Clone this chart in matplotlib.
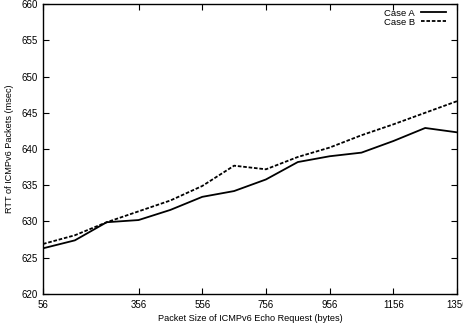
import matplotlib.pyplot as plt
import numpy as np

plt.rcParams['font.family'] = ['Liberation Sans', 'DejaVu Sans']

# packet sizes (bytes)
sizes = [56, 156, 256, 356, 456, 556, 656, 756, 856, 956, 1056, 1156, 1256, 1356]
case_a = [626.3, 627.4, 629.9, 630.2, 631.6, 633.4, 634.2, 635.8, 638.2, 639.0,
          639.5, 641.1, 642.9, 642.3]
case_b = [626.9, 628.1, 629.9, 631.4, 632.9, 634.9, 637.7, 637.2, 638.9, 640.2,
          641.9, 643.4, 645.0, 646.6]
xticks = [56, 356, 556, 756, 956, 1156, 1356]
yticks = [620, 625, 630, 635, 640, 645, 650, 655, 660]

fig = plt.figure(figsize=(4.64, 3.29), dpi=100)
ax = fig.add_axes([0.0927, 0.1064, 0.8923, 0.8814])

ax.plot(sizes, case_a, color='black', lw=1.3, ls='-', label='Case A')
ax.plot(sizes, case_b, color='black', lw=1.3, ls=(0, (2, 1)), label='Case B')

ax.set_xlim(56, 1356)
ax.set_ylim(620, 660)
ax.set_xticks(xticks)
ax.set_yticks(yticks)
ax.tick_params(direction='in', length=4, width=0.8, labelsize=7,
               top=True, right=True, pad=4)
for s in ax.spines.values():
    s.set_linewidth(1.0)

ax.set_xlabel('Packet Size of ICMPv6 Echo Request (bytes)', fontsize=6.6, labelpad=3)
ax.set_ylabel('RTT of ICMPv6 Packets (msec)', fontsize=6.6, labelpad=5)

ax.legend(loc='upper right', frameon=False, markerfirst=False, fontsize=6.8,
          handlelength=2.7, handletextpad=0.6, labelspacing=0.0,
          borderaxespad=0.2, borderpad=0.3,
          bbox_to_anchor=(0.985, 1.0))

fig.savefig('out.png', dpi=100)
